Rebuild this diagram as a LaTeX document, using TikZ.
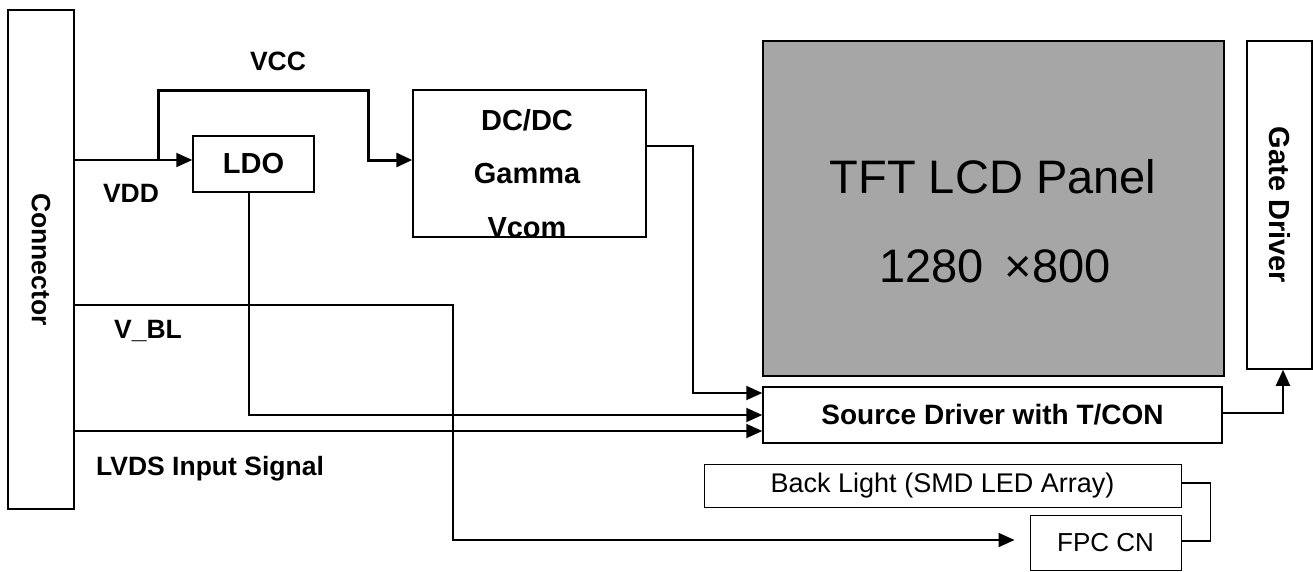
\documentclass[tikz,border=0pt]{standalone}
\usepackage{fontspec}
\setmainfont{Liberation Sans}
\usetikzlibrary{arrows.meta}

\definecolor{panelgray}{HTML}{A6A6A6}

\tikzset{
  blk/.style={draw, line width=1.5pt, inner sep=0pt, fill=white},
  wire/.style={line width=2pt},
  lbl/.style={font=\fontsize{26.5}{31}\selectfont\bfseries, inner sep=0pt},
  big/.style={font=\fontsize{29}{34}\selectfont\bfseries, inner sep=0pt},
}

\begin{document}
\begin{tikzpicture}[x=1pt, y=-1pt, >={Triangle[length=16pt,width=14pt]}]

  \useasboundingbox (0,0) rectangle (1313,571);

  % --- connector ---
  \node[blk, lbl, minimum width=66pt, minimum height=499pt] (conn) at (41,259.5) {\rotatebox{-90}{Connector}};

  % --- LDO ---
  \node[blk, big, minimum width=121pt, minimum height=56pt] (ldo) at (253.5,164) {LDO};

  % --- DC/DC ---
  \node[blk, minimum width=233pt, minimum height=147pt] (dcdc) at (529.5,163.5) {};
  \node[big, anchor=base] (dctxt) at (527,130) {DC/DC};
  \node[big, anchor=base] (gammatxt) at (527,183) {Gamma};
  \node[big, anchor=base] (vcomtxt) at (527,237) {Vcom};

  % --- pannello ---
  \node[blk, fill=panelgray, line width=2.5pt, minimum width=461pt, minimum height=335pt] (tft) at (993.5,208.5) {};
  \node[font=\fontsize{47}{56}\selectfont, inner sep=0pt, anchor=base] (tfttxt) at (993,193) {TFT LCD Panel};
  \node[font=\fontsize{47}{56}\selectfont, inner sep=0pt, anchor=base] (restxt) at (995,282) {1280 \,×800};

  % --- gate / source ---
  \node[blk, big, minimum width=65pt, minimum height=328pt] (gate) at (1279.5,205) {\rotatebox{-90}{Gate Driver}};
  \node[blk, big, font=\fontsize{28}{33}\selectfont\bfseries, minimum width=459pt, minimum height=56pt] (src) at (992.5,415) {Source Driver with T/CON};

  % --- back light ---
  \node[blk, line width=1pt, minimum width=477pt, minimum height=43pt, font=\fontsize{27}{32}\selectfont] (bl) at (942.5,485.5) {Back Light (SMD LED Array)};
  \node[blk, line width=1pt, minimum width=151pt, minimum height=55pt, font=\fontsize{26}{31}\selectfont] (fpc) at (1105.5,542.5) {FPC CN};

  % --- etichette ---
  \node[lbl, anchor=base] (vcc) at (278,70) {VCC};
  \node[lbl, anchor=base] (vdd) at (131,202) {VDD};
  \node[lbl, anchor=base] (vbl) at (148,338) {V\_BL};
  \node[lbl, anchor=base] (lvds) at (210,475) {LVDS Input Signal};

  % --- VDD / VCC ---
  \coordinate (vsplit) at (158,160);
  \coordinate (vccup) at (368,90);
  \draw[wire] (conn.east |- vsplit) -- (vsplit);
  \draw[wire,->] (vsplit) -- ([yshift=4pt]ldo.west);
  \draw[line width=3pt,->] (vsplit) |- (vccup) |- ([yshift=3.5pt]dcdc.west);

  % --- DC/DC -> source ---
  \coordinate (dcturn) at (693,393);
  \draw[wire,->] ([yshift=17.5pt]dcdc.east) -| (dcturn) -- (dcturn -| src.west);

  % --- LDO -> source ---
  \draw[wire,->] ([xshift=-4.5pt]ldo.south) |- (src.west);

  % --- LVDS ---
  \coordinate (lvdsin) at ([yshift=-16pt]src.west);
  \draw[wire,->] (lvdsin -| conn.east) -- (lvdsin);

  % --- V_BL -> FPC ---
  \coordinate (blturn) at (453,305);
  \coordinate (fpcin) at ([xshift=-15pt,yshift=2.5pt]fpc.west);
  \draw[wire,->] (blturn -| conn.east) -- (blturn) |- (fpcin);

  % --- source -> gate ---
  \draw[wire,->] ([yshift=2pt]src.east) -| ([xshift=3.5pt]gate.south);

  % --- back light -- FPC ---
  \draw[line width=1.5pt] ([yshift=2.5pt]bl.east) -- ++(29,0) |- ([yshift=1.5pt]fpc.east);

\end{tikzpicture}
\end{document}
